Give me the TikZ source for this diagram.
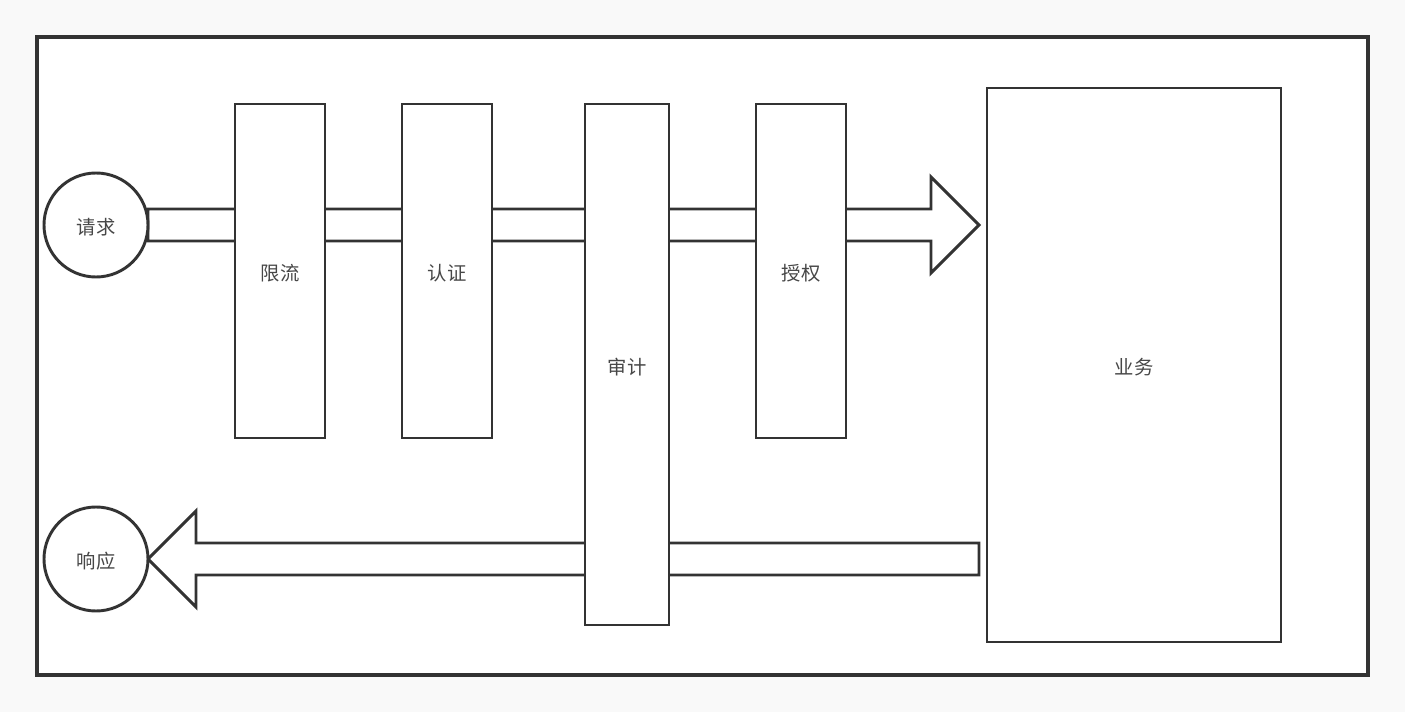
\documentclass[tikz,border=0pt]{standalone}
\usepackage{fontspec}
\newfontfamily\cjk{Noto Sans CJK SC}
\definecolor{ln}{HTML}{333333}
\definecolor{bg}{HTML}{F9F9F9}
\newcommand{\lowtext}[1]{\raisebox{-1.6pt}[\height][\depth]{#1}}
\begin{document}
\begin{tikzpicture}[x=0.75pt,y=-0.75pt,
  shp/.style={draw=ln,line width=2.2pt,fill=white,line join=miter},
  lbl/.style={font=\cjk\fontsize{14.5}{17}\selectfont,text=ln!90},
  circ/.style={shp,circle,minimum size=78pt,inner sep=0pt,outer sep=0pt,lbl},
  boxs/.style={shp,rectangle,inner sep=0pt,outer sep=0pt,lbl}]
\useasboundingbox (0,0) rectangle (1405,712);
\fill[bg] (0,0) rectangle (1405,712);
\draw[draw=ln,line width=2.3pt,fill=white] (37,37) rectangle (1368,675);
% request arrow
\draw[shp] (148,209) -- (931,209) -- (931,177) -- (979,225) -- (931,273) -- (931,241) -- (148,241) -- cycle;
% response arrow
\draw[shp] (979,543) -- (196,543) -- (196,511) -- (148,559) -- (196,607) -- (196,575) -- (979,575) -- cycle;
% circles
\node[circ] (req) at (96,225) {\lowtext{请求}};
\node[circ] (resp) at (96,559) {\lowtext{响应}};
% boxes
\node[boxs,minimum width=67.5pt,minimum height=250.5pt] (xl) at (280,271) {\lowtext{限流}};
\node[boxs,minimum width=67.5pt,minimum height=250.5pt] (rz) at (447,271) {\lowtext{认证}};
\node[boxs,minimum width=63pt,minimum height=390.75pt] (sj) at (627,364.5) {\lowtext{审计}};
\node[boxs,minimum width=67.5pt,minimum height=250.5pt] (sq) at (801,271) {\lowtext{授权}};
\node[boxs,minimum width=220.5pt,minimum height=415.5pt] (yw) at (1134,365) {\lowtext{业务}};
\end{tikzpicture}
\end{document}
